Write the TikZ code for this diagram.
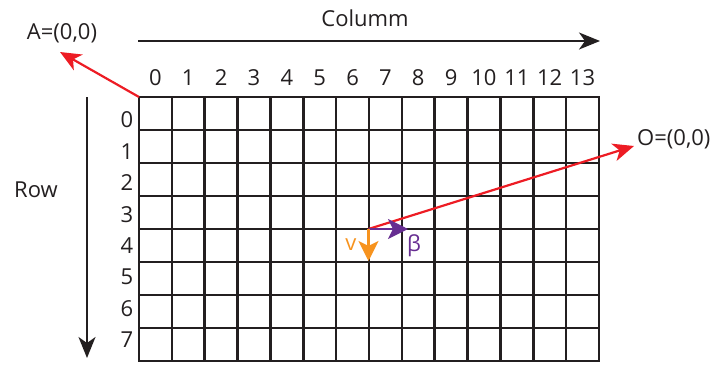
\documentclass[tikz,border=0pt]{standalone}
\usepackage{fontspec}
\setmainfont{Open Sans}
\usetikzlibrary{arrows.meta}
\definecolor{ink}{HTML}{231F20}
\definecolor{redl}{HTML}{ED1C24}
\definecolor{purp}{HTML}{662D91}
\definecolor{oran}{HTML}{F7931E}
\begin{document}
\begin{tikzpicture}[x=1pt,y=-1pt,
  font=\fontsize{22}{26}\selectfont,
  txt/.style={text=ink, inner sep=0pt},
  gridline/.style={draw=ink, line width=2.5pt, line cap=rect},
  bigarrow/.style={draw=ink, line width=2pt, -{Stealth[length=21pt,width=17pt,inset=6pt]}},
  redarrow/.style={draw=redl, line width=2.2pt, -{Stealth[length=21pt,width=18pt,inset=6pt]}},
  vecarrow/.style={line width=2.4pt, -{Stealth[length=20pt,width=20pt,inset=5pt]}}]
\useasboundingbox (0,0) rectangle (718,365);
% grid
\foreach \i in {0,...,14} \draw[gridline] ({139+\i*32.857},97) -- ({139+\i*32.857},361);
\foreach \j in {0,...,8} \draw[gridline] (139,{97+\j*33}) -- (599,{97+\j*33});
% column labels
\foreach \i in {0,...,13} \node[txt] (c\i) at ({155.4+\i*32.857},78) {\i};
% row labels
\foreach \j in {0,...,7} \node[txt] (r\j) at (127,{120+\j*31.4}) {\j};
% titles and axis arrows
\node[txt] (coltitle) at (365,18) {Columm};
\coordinate (colS) at (138,41);
\coordinate (colE) at (600,41);
\draw[bigarrow] (colS) -- (colE);
\node[txt] (rowtitle) at (36,190) {Row};
\coordinate (rowS) at (87,97);
\coordinate (rowE) at (87,358);
\draw[bigarrow] (rowS) -- (rowE);
% A origin
\node[txt] (A) at (62,33) {A=(0,0)};
\coordinate (gridA) at (139,97);
\coordinate (Atip) at (60,52);
\draw[redarrow] (gridA) -- (Atip);
% O origin
\node[txt, anchor=west] (O) at (637,139) {O=(0,0)};
\coordinate (P) at (368.5,229);
\coordinate (Otip) at (634,146);
\draw[redarrow] (P) -- (Otip);
% vectors
\coordinate (btip) at (408,229);
\coordinate (vtip) at (368.5,261);
\draw[vecarrow, draw=purp, fill=purp] (P) -- (btip);
\draw[vecarrow, draw=oran, fill=oran] (P) -- (vtip);
\node[inner sep=0pt, text=purp] (beta) at (414,246) {β};
\node[inner sep=0pt, text=oran] (v) at (351,245) {v};
\end{tikzpicture}
\end{document}
